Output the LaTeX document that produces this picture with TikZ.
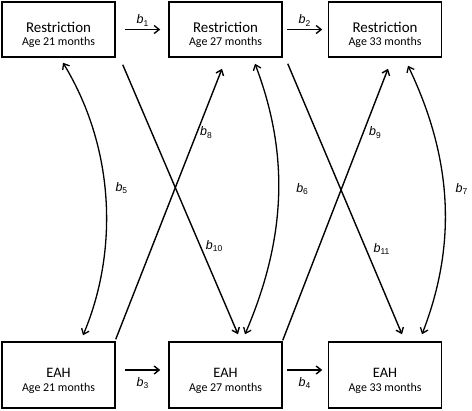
\documentclass[tikz,border=0pt]{standalone}
\usepackage{fontspec}
\setmainfont{Carlito}
\newfontfamily\labfont{Liberation Sans}
\usetikzlibrary{arrows.meta}
\newcommand{\blab}[1]{{\labfont\fontsize{12.5}{14}\selectfont\textit{b}\raisebox{-2.5bp}{\fontsize{8.5}{9}\selectfont #1}}}
\begin{document}
\begin{tikzpicture}[x=1bp,y=-1bp,
 box/.style={draw, line width=1.5bp, minimum width=113bp, inner sep=0},
 tbox/.style={box, minimum height=55bp},
 bbox/.style={box, minimum height=66bp},
 ttxt/.style={align=center, font=\fontsize{12}{13.5}\selectfont, inner sep=0, yshift=-5.5bp},
 btxt/.style={align=center, font=\fontsize{12}{14}\selectfont, inner sep=0, yshift=-5.5bp},
 tip/.tip={Straight Barb[length=5bp,width=8bp]},
 conn/.style={line width=1.4bp, -tip},
 dbl/.style={line width=1.3bp, tip-tip},
 lab/.style={inner sep=0}]
\useasboundingbox (0,0) rectangle (472,410);
% boxes
\node[tbox, label={[ttxt]center:{{\fontsize{15}{15}\selectfont Restriction}\\Age 21 months}}] (r21) at (58.5,29.5) {};
\node[tbox, label={[ttxt]center:{{\fontsize{15}{15}\selectfont Restriction}\\Age 27 months}}] (r27) at (225.5,29.5) {};
\node[tbox, label={[ttxt]center:{{\fontsize{15}{15}\selectfont Restriction}\\Age 33 months}}] (r33) at (385,29.5) {};
\node[bbox, label={[btxt]center:{{\fontsize{14.5}{14.5}\selectfont EAH}\\Age 21 months}}] (e21) at (58.5,375) {};
\node[bbox, label={[btxt]center:{{\fontsize{14.5}{14.5}\selectfont EAH}\\Age 27 months}}] (e27) at (225.5,375) {};
\node[bbox, label={[btxt]center:{{\fontsize{14.5}{14.5}\selectfont EAH}\\Age 33 months}}] (e33) at (385,375) {};
% horizontal paths
\draw[conn] ([shift={(9,0)}]r21.east) -- node[lab, anchor=base, yshift=6bp]{\blab{1}} ([shift={(-8,0)}]r27.west);
\draw[conn] ([shift={(4,0)}]r27.east) -- node[lab, anchor=base, yshift=6bp]{\blab{2}} ([shift={(-5.5,0)}]r33.west);
\draw[conn] ([shift={(9,-5)}]e21.east) -- node[lab, anchor=base, yshift=-16bp]{\blab{3}} ([shift={(-8,-5)}]e27.west);
\draw[conn] ([shift={(4,-5)}]e27.east) -- node[lab, anchor=base, yshift=-16bp]{\blab{4}} ([shift={(-5.5,-5)}]e33.west);
% correlations
\draw[dbl] ([shift={(4.5,5)}]r21.south) .. controls +(54,89) and +(34,-80) .. ([shift={(24.5,-6)}]e21.north)
  node[lab, pos=0.45, anchor=west, xshift=10bp]{\blab{5}};
\draw[dbl] ([shift={(29.5,6)}]r27.south) .. controls +(33,87) and +(43,-100) .. ([shift={(19.5,-7)}]e27.north)
  node[lab, pos=0.48, anchor=west, xshift=17bp]{\blab{6}};
\draw[dbl] ([shift={(23,8)}]r33.south) .. controls +(47,98) and +(33,-85) .. ([shift={(37,-7)}]e33.north)
  node[lab, pos=0.44, anchor=west, xshift=11bp]{\blab{7}};
% cross-lagged
\draw[conn] ([shift={(0,-2)}]e21.north east) -- ([shift={(-3.5,11)}]r27.south)
  node[lab, pos=0.765, anchor=west, xshift=2.5bp]{\blab{8}};
\draw[conn] ([shift={(7,7)}]r21.south east) -- ([shift={(12.5,-7)}]e27.north)
  node[lab, pos=0.672, anchor=west, xshift=5bp]{\blab{10}};
\draw[conn] ([shift={(0,-1)}]e27.north east) -- ([shift={(3,11)}]r33.south)
  node[lab, pos=0.766, anchor=west, xshift=5bp]{\blab{9}};
\draw[conn] ([shift={(5,6)}]r27.south east) -- ([shift={(17,-7)}]e33.north)
  node[lab, pos=0.684, anchor=west, xshift=7bp]{\blab{11}};
\end{tikzpicture}
\end{document}
